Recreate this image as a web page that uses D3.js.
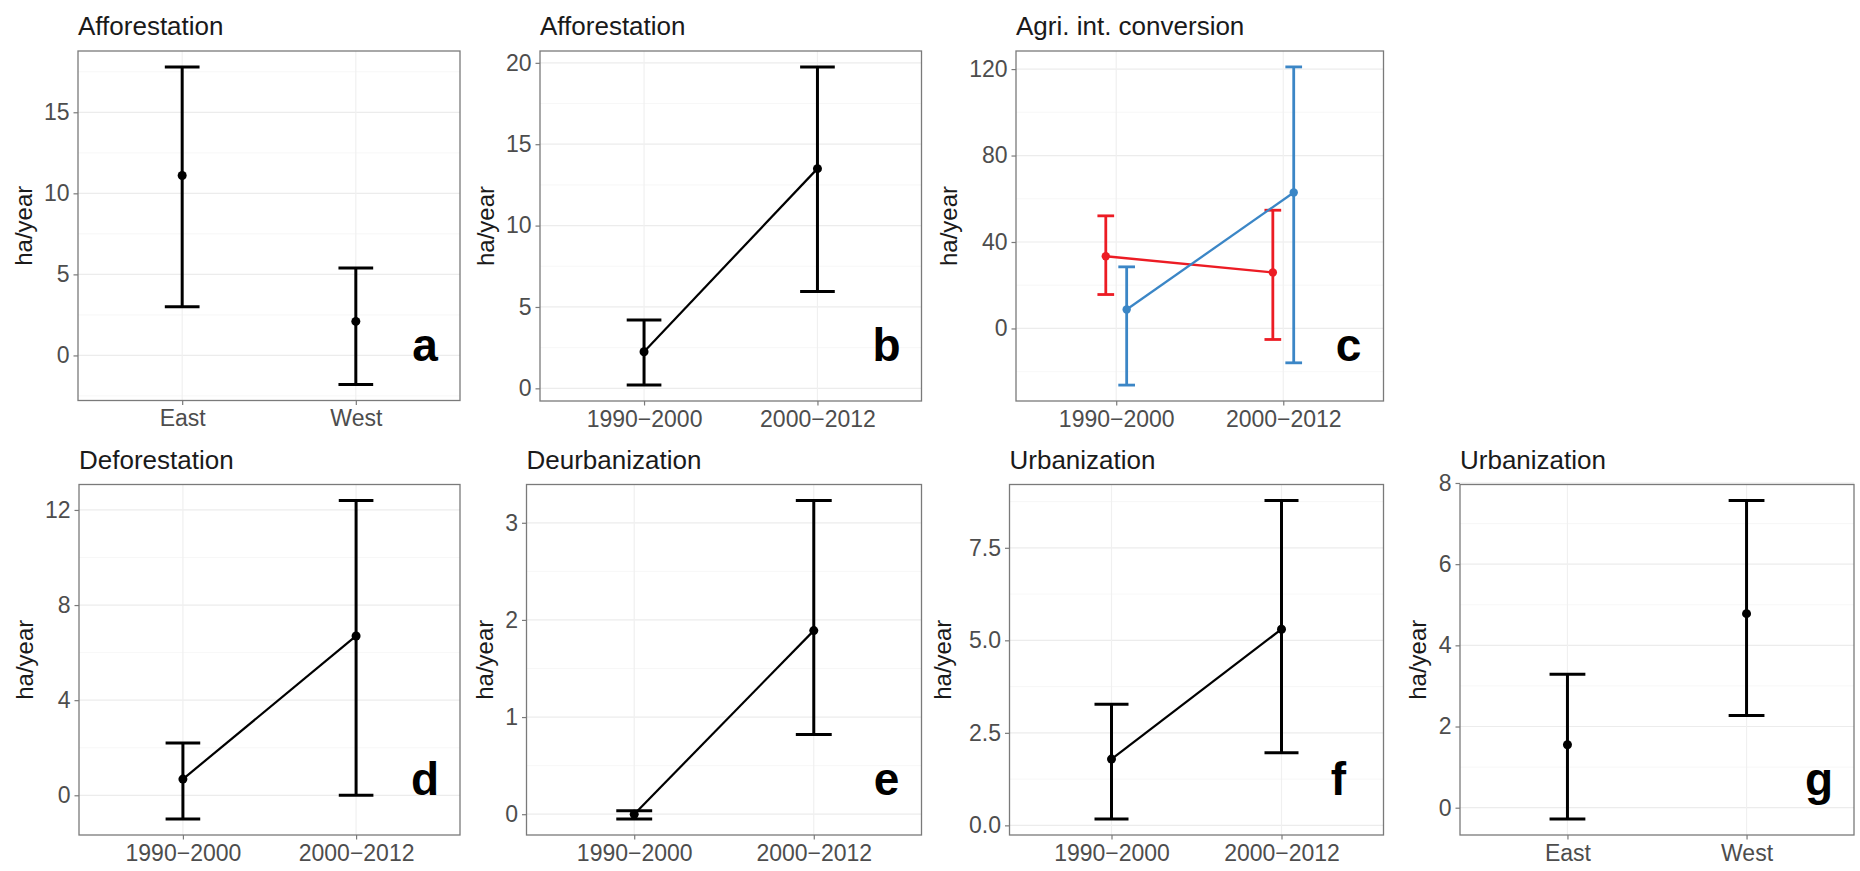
<!DOCTYPE html>
<html>
<head>
<meta charset="utf-8">
<script src="https://cdn.jsdelivr.net/npm/d3@7/dist/d3.min.js"></script>
<style>
  html, body { margin: 0; padding: 0; background: #fff; }
  svg { display: block; font-family: "Liberation Sans", Arial, sans-serif; }
</style>
</head>
<body>
<svg id="chart" width="1860" height="871"></svg>
<script>
// ---- categories ----
const periods = ["1990\u22122000", "2000\u22122012"];
const regions = ["East", "West"];

// ---- series: mean and confidence limits (ha/year) ----
const affRegionMean = [11.1, 2.1];
const affRegionLow  = [3.0, -1.8];
const affRegionHigh = [17.8, 5.4];

const affPeriodMean = [2.25, 13.5];
const affPeriodLow  = [0.2, 5.95];
const affPeriodHigh = [4.2, 19.75];

const agriRedMean  = [33.4, 25.9];
const agriRedLow   = [15.7, -5.1];
const agriRedHigh  = [52.1, 54.7];
const agriBlueMean = [8.8, 62.9];
const agriBlueLow  = [-26.2, -15.9];
const agriBlueHigh = [28.5, 121];

const defMean = [0.68, 6.7];
const defLow  = [-1.0, 0.0];
const defHigh = [2.2, 12.4];

const deurbMean = [0.0, 1.89];
const deurbLow  = [-0.05, 0.82];
const deurbHigh = [0.035, 3.23];

const urbPeriodMean = [1.79, 5.3];
const urbPeriodLow  = [0.17, 1.96];
const urbPeriodHigh = [3.27, 8.78];

const urbRegionMean = [1.55, 4.78];
const urbRegionLow  = [-0.28, 2.27];
const urbRegionHigh = [3.29, 7.57];

// ---- tick labels ----
const ticksA = [0, 5, 10, 15];
const ticksB = [0, 5, 10, 15, 20];
const ticksC = [0, 40, 80, 120];
const ticksD = [0, 4, 8, 12];
const ticksE = [0, 1, 2, 3];
const ticksF = [0, 2.5, 5, 7.5];
const ticksG = [0, 2, 4, 6, 8];

const RED = "#ec1c24", BLUE = "#3b86c6", BLACK = "#000";

const series = (cats, mean, low, high, color) =>
  cats.map((c, i) => ({ cat: c, mean: mean[i], low: low[i], high: high[i], color }));

const panels = [
  { title: "Afforestation", letter: "a", box: [78, 51, 460, 400.5], cats: regions, ticks: ticksA, fmt: d3.format("d"),
    groups: [series(regions, affRegionMean, affRegionLow, affRegionHigh, BLACK)], line: false, capW: 0.2 },
  { title: "Afforestation", letter: "b", box: [540, 51, 921.5, 401], cats: periods, ticks: ticksB, fmt: d3.format("d"),
    groups: [series(periods, affPeriodMean, affPeriodLow, affPeriodHigh, BLACK)], line: true, capW: 0.2 },
  { title: "Agri. int. conversion", letter: "c", box: [1016, 51, 1383.5, 401], cats: periods, ticks: ticksC, fmt: d3.format("d"),
    groups: [series(periods, agriRedMean, agriRedLow, agriRedHigh, RED),
             series(periods, agriBlueMean, agriBlueLow, agriBlueHigh, BLUE)], line: true, capW: 0.1, dodge: 0.25 },
  { title: "Deforestation", letter: "d", box: [79, 484.5, 460, 835], cats: periods, ticks: ticksD, fmt: d3.format("d"),
    groups: [series(periods, defMean, defLow, defHigh, BLACK)], line: true, capW: 0.2 },
  { title: "Deurbanization", letter: "e", box: [526.5, 484.5, 921.5, 835], cats: periods, ticks: ticksE, fmt: d3.format("d"),
    groups: [series(periods, deurbMean, deurbLow, deurbHigh, BLACK)], line: true, capW: 0.2 },
  { title: "Urbanization", letter: "f", box: [1009.5, 484.5, 1383.5, 835], cats: periods, ticks: ticksF, fmt: d3.format(".1f"),
    groups: [series(periods, urbPeriodMean, urbPeriodLow, urbPeriodHigh, BLACK)], line: true, capW: 0.2, letterDx: -10 },
  { title: "Urbanization", letter: "g", box: [1460, 484.5, 1854, 835], cats: regions, ticks: ticksG, fmt: d3.format("d"),
    groups: [series(regions, urbRegionMean, urbRegionLow, urbRegionHigh, BLACK)], line: false, capW: 0.2 }
];

const svg = d3.select("#chart");

panels.forEach(p => {
  const [x0, y0, x1, y1] = p.box;
  const g = svg.append("g");

  // x: discrete positions with ggplot-like expansion
  const x = d3.scalePoint().domain(p.cats).range([x0, x1]).padding(0.6);
  const step = x.step();

  // y: data range with 5% expansion each side
  const all = p.groups.flat();
  const lo = d3.min(all, d => d.low), hi = d3.max(all, d => d.high);
  const pad = (hi - lo) * 0.05;
  const y = d3.scaleLinear().domain([lo - pad, hi + pad]).range([y1, y0]);

  // grid: minor y, major y, major x
  const stepT = p.ticks[1] - p.ticks[0];
  const minor = d3.range(p.ticks.length + 1)
    .map(i => p.ticks[0] - stepT / 2 + i * stepT)
    .filter(v => v > y.domain()[0] && v < y.domain()[1]);
  g.append("g").selectAll("line").data(minor).join("line")
    .attr("x1", x0).attr("x2", x1)
    .attr("y1", d => y(d)).attr("y2", d => y(d))
    .attr("stroke", "#f5f5f5").attr("stroke-width", 0.8);
  g.append("g").selectAll("line").data(p.ticks).join("line")
    .attr("x1", x0).attr("x2", x1)
    .attr("y1", d => y(d)).attr("y2", d => y(d))
    .attr("stroke", "#ececec").attr("stroke-width", 1.2);
  g.append("g").selectAll("line").data(p.cats).join("line")
    .attr("x1", d => x(d)).attr("x2", d => x(d))
    .attr("y1", y0).attr("y2", y1)
    .attr("stroke", "#f0f0f0").attr("stroke-width", 1.2);

  // axes
  const yAxis = g.append("g").attr("transform", `translate(${x0},0)`)
    .call(d3.axisLeft(y).tickValues(p.ticks).tickFormat(p.fmt).tickSize(4.5).tickPadding(4));
  const xAxis = g.append("g").attr("transform", `translate(0,${y1})`)
    .call(d3.axisBottom(x).tickSize(4.5).tickPadding(4));
  [yAxis, xAxis].forEach(ax => {
    ax.select(".domain").remove();
    ax.selectAll(".tick line").attr("stroke", "#7a7a7a").attr("stroke-width", 1.2);
    ax.selectAll(".tick text").attr("fill", "#4d4d4d")
      .style("font-size", "23px").style("font-family", "'Liberation Sans', Arial, sans-serif");
  });
  xAxis.selectAll(".tick text").attr("dy", "0.76em");

  // panel border
  g.append("rect").attr("x", x0).attr("y", y0).attr("width", x1 - x0).attr("height", y1 - y0)
    .attr("fill", "none").attr("stroke", "#7a7a7a").attr("stroke-width", 1.3);

  // data
  const nG = p.groups.length;
  const offset = i => nG > 1 ? (i - (nG - 1) / 2) * (p.dodge / nG) * step : 0;
  const capHalf = p.capW / 2 * step;

  p.groups.forEach((grp, gi) => {
    const xs = d => x(d.cat) + offset(gi);
    const color = grp[0].color;
    const lw = nG > 1 ? 2.3 : 2.2;
    if (p.line) {
      g.append("path").datum(grp)
        .attr("d", d3.line().x(xs).y(d => y(d.mean)))
        .attr("fill", "none").attr("stroke", color).attr("stroke-width", lw);
    }
    const eb = g.append("g").selectAll("g").data(grp).join("g")
      .attr("stroke", color).attr("stroke-width", nG > 1 ? 2.8 : 3);
    eb.append("line").attr("x1", xs).attr("x2", xs)
      .attr("y1", d => y(d.low)).attr("y2", d => y(d.high));
    eb.append("line").attr("x1", d => xs(d) - capHalf).attr("x2", d => xs(d) + capHalf)
      .attr("y1", d => y(d.high)).attr("y2", d => y(d.high));
    eb.append("line").attr("x1", d => xs(d) - capHalf).attr("x2", d => xs(d) + capHalf)
      .attr("y1", d => y(d.low)).attr("y2", d => y(d.low));
    g.append("g").selectAll("circle").data(grp).join("circle")
      .attr("cx", xs).attr("cy", d => y(d.mean)).attr("r", nG > 1 ? 4.2 : 4.5)
      .attr("fill", color);
  });

  // titles
  g.append("text").attr("x", x0).attr("y", y0 - 16)
    .attr("fill", "#1a1a1a").style("font-size", "26px").text(p.title);
  const maxChars = d3.max(p.ticks.map(p.fmt), s => s.length);
  g.append("text")
    .attr("transform", `translate(${x0 - maxChars * 12.6 - 21},${(y0 + y1) / 2}) rotate(-90)`)
    .attr("text-anchor", "middle").attr("fill", "#1a1a1a").style("font-size", "24px").text("ha/year");

  // panel letter
  g.append("text").attr("x", x1 - 35 + (p.letterDx || 0)).attr("y", y1 - 40)
    .attr("text-anchor", "middle").attr("fill", "#000")
    .style("font-size", "46px").style("font-weight", "bold").text(p.letter);
});
</script>
</body>
</html>
